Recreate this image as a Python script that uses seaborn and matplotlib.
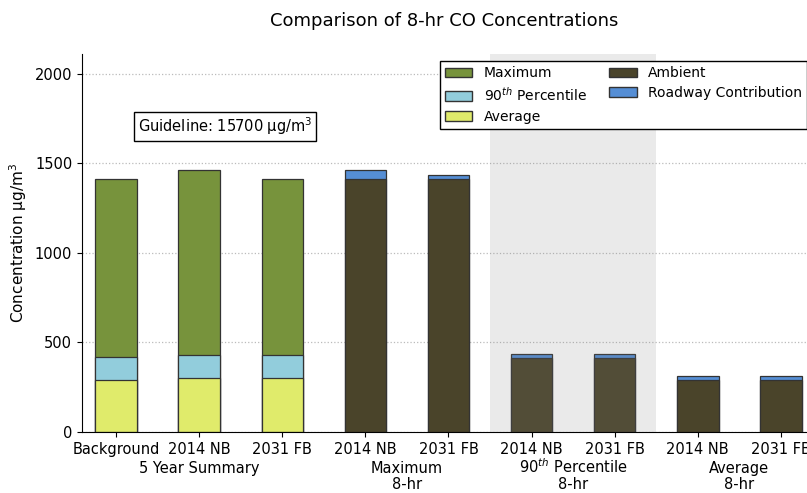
import pandas as pd
import seaborn as sns
import matplotlib.pyplot as plt
from matplotlib.patches import Patch
from matplotlib.transforms import blended_transform_factory

# Data (ug/m3)
keys = ['bg', 'sum14', 'sum31', 'max14', 'max31', 'p9014', 'p9031', 'avg14', 'avg31']
tick_labels = ['Background', '2014 NB', '2031 FB', '2014 NB', '2031 FB',
               '2014 NB', '2031 FB', '2014 NB', '2031 FB']

summary_keys = ['bg', 'sum14', 'sum31']
summary_max = [1410, 1460, 1410]
summary_p90 = [416, 430, 430]
summary_avg = [290, 300, 300]

project_keys = ['max14', 'max31', 'p9014', 'p9031', 'avg14', 'avg31']
ambient = [1410, 1410, 412, 412, 292, 292]
roadway = [52, 25, 24, 24, 20, 20]

groups = ['5 Year Summary', 'Maximum', '90$^{th}$ Percentile', 'Average']
group_sub = ['', '8-hr', '8-hr', '8-hr']
group_pos = [1, 3.5, 5.5, 7.5]

colors = {'Maximum': '#77933C', '90$^{th}$ Percentile': '#92CDDC', 'Average': '#E0EB6B',
          'Ambient': '#4A442A', 'Roadway Contribution': '#558ED5'}

df_sum = pd.DataFrame({'key': summary_keys, 'max': summary_max,
                       'p90': summary_p90, 'avg': summary_avg})
df_proj = pd.DataFrame({'key': project_keys, 'ambient': ambient, 'roadway': roadway})
df_proj['total'] = df_proj['ambient'] + df_proj['roadway']

fig = plt.figure(figsize=(8.07, 4.93), dpi=100)
ax = fig.add_axes([0.1016, 0.1237, 0.898, 0.767])

bar_kw = dict(order=keys, width=0.5, edgecolor='#333333', linewidth=0.9,
              errorbar=None, ax=ax, zorder=2, saturation=1)

# overlaid bars: largest drawn first
sns.barplot(data=df_sum, x='key', y='max', color=colors['Maximum'], **bar_kw)
sns.barplot(data=df_sum, x='key', y='p90', color=colors['90$^{th}$ Percentile'], **bar_kw)
sns.barplot(data=df_sum, x='key', y='avg', color=colors['Average'], **bar_kw)
sns.barplot(data=df_proj, x='key', y='total', color=colors['Roadway Contribution'], **bar_kw)
sns.barplot(data=df_proj, x='key', y='ambient', color=colors['Ambient'], **bar_kw)

ax.axvspan(4.5, 6.5, color='gray', alpha=0.16, lw=0, zorder=3)

ax.set_xlim(-0.41, 8.31)
ax.set_ylim(0, 2110)
ax.set_yticks([0, 500, 1000, 1500, 2000])
ax.yaxis.grid(True, linestyle=':', color='#bbbbbb', linewidth=0.9, zorder=0)
ax.set_axisbelow(True)
ax.set_xticks(range(len(keys)))
ax.set_xticklabels(tick_labels, fontsize=10.5)
ax.tick_params(axis='y', labelsize=10.5)
ax.set_xlabel('')
ax.set_ylabel('Concentration μg/m$^3$', fontsize=11)
for s in ['top', 'right']:
    ax.spines[s].set_visible(False)

trans = blended_transform_factory(ax.transData, ax.transAxes)
for g, sub, p in zip(groups, group_sub, group_pos):
    ax.text(p, -0.1085, g, transform=trans, ha='center', va='baseline', fontsize=10.5)
    if sub:
        ax.text(p, -0.150, sub, transform=trans, ha='center', va='baseline', fontsize=10.5)

ax.text(0.26, 1705, 'Guideline: 15700 μg/m$^3$', fontsize=10.5, va='center', ha='left',
        bbox=dict(facecolor='white', edgecolor='black', boxstyle='square,pad=0.25'))

ax.set_title('Comparison of 8-hr CO Concentrations', fontsize=13, pad=20)

handles = [Patch(facecolor=c, edgecolor='#333333', label=l) for l, c in colors.items()]
leg = ax.legend(handles=handles, ncol=2, loc='upper right', bbox_to_anchor=(1.0, 0.98),
                borderaxespad=0, fontsize=10, fancybox=False, framealpha=1,
                handlelength=2.0, columnspacing=1.6, labelspacing=0.42,
                borderpad=0.35)
leg.get_frame().set_edgecolor('black')

fig.savefig('out.png', dpi=100)
